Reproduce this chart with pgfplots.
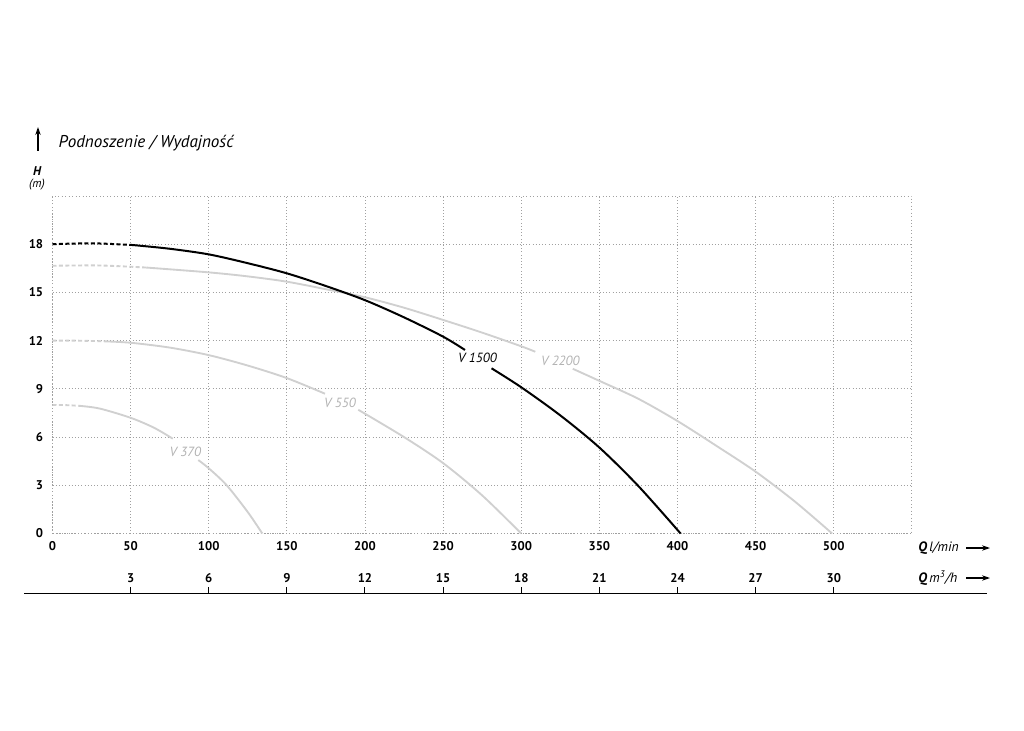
\documentclass[border=0pt]{standalone}
\usepackage{fontspec}
\setmainfont{PT Sans}
\usepackage{pgfplots}
\pgfplotsset{compat=1.18}
\usetikzlibrary{arrows.meta}
\definecolor{curvegray}{RGB}{208,208,208}
\definecolor{labgray}{RGB}{178,178,178}
\definecolor{gridgray}{RGB}{160,160,160}
\begin{document}
\begin{tikzpicture}
\useasboundingbox (0,0) rectangle (768pt,-548.25pt);
\begin{axis}[
  at={(39.375pt,-400.125pt)}, anchor=south west,
  scale only axis, width=644.5pt, height=253.1pt,
  xmin=0, xmax=550, ymin=0, ymax=21,
  xtick={0,50,...,500}, ytick={0,3,...,18},
  grid=major, major grid style={gridgray, dotted, line width=0.6pt},
  axis line style={gridgray, dotted, line width=0.6pt},
  major tick length=0pt,
  tick label style={font=\fontsize{9.5}{11}\selectfont\bfseries},
  /pgf/number format/assume math mode=true,
  x tick label style={yshift=-2.5pt},
  y tick label style={xshift=-3.5pt},
  clip=false,
]
% V 370
\addplot[curvegray, line width=1.4pt, dash pattern=on 3pt off 1.8pt, smooth] coordinates {(0,8) (8,7.99) (16.5,7.95)};
\addplot[curvegray, line width=1.4pt, smooth] coordinates {(16.5,7.95) (30,7.78) (50,7.2) (65,6.58) (77,5.9)};
\addplot[curvegray, line width=1.4pt, smooth] coordinates {(93.3,4.57) (100,4.06) (111.5,3) (125,1.33) (134.3,0)};
% V 550
\addplot[curvegray, line width=1.4pt, dash pattern=on 3pt off 1.8pt, smooth] coordinates {(0,12) (16,12.0) (33,11.96)};
\addplot[curvegray, line width=1.4pt, smooth] coordinates {(33,11.96) (50,11.87) (75,11.57) (100,11.1) (125,10.45) (150,9.67) (174.4,8.7)};
\addplot[curvegray, line width=1.4pt, smooth] coordinates {(195.7,7.7) (225,6.0) (250,4.38) (275,2.37) (300,0)};
% V 2200
\addplot[curvegray, line width=1.4pt, dash pattern=on 3pt off 1.8pt, smooth] coordinates {(0,16.66) (30,16.68) (60,16.55)};
\addplot[curvegray, line width=1.4pt, smooth] coordinates {(60,16.55) (100,16.25) (125,16.0) (150,15.67) (175,15.2) (200,14.7) (225,14.05) (250,13.29) (275,12.5) (300,11.65) (309,11.31)};
\addplot[curvegray, line width=1.4pt, smooth] coordinates {(333,10.25) (350,9.5) (375,8.38) (400,7.0) (425,5.45) (450,3.85) (475,2.0) (499,0)};
% V 1500
\addplot[black, line width=1.5pt, dash pattern=on 3pt off 1.8pt, smooth] coordinates {(0,18) (25,18.06) (51.5,17.95)};
\addplot[black, line width=1.5pt, smooth] coordinates {(51.5,17.95) (75,17.72) (100,17.37) (125,16.82) (150,16.19) (175,15.4) (200,14.52) (225,13.45) (250,12.25) (264,11.42)};
\addplot[black, line width=1.5pt, smooth] coordinates {(281,10.28) (300,9.1) (325,7.35) (350,5.35) (375,2.95) (402,0)};
\node[font=\fontsize{10}{12}\selectfont\itshape] at (axis cs:272,10.92) {V 1500};
\node[labgray, font=\fontsize{10}{12}\selectfont\itshape] at (axis cs:325,10.73) {V 2200};
\node[labgray, font=\fontsize{10}{12}\selectfont\itshape] at (axis cs:184,8.12) {V 550};
\node[labgray, font=\fontsize{10}{12}\selectfont\itshape] at (axis cs:85,5.07) {V 370};
\end{axis}
\begin{axis}[
  at={(18pt,-444.75pt)}, anchor=north west,
  scale only axis, width=722.25pt, height=10pt,
  xmin=-1.094, xmax=35.885, ymin=0, ymax=1,
  axis x line*=top, axis y line=none,
  xtick={3,6,...,30}, tick align=outside, major tick length=4.5pt,
  x axis line style={black, line width=0.75pt},
  tick style={black, line width=0.75pt},
  tick label style={font=\fontsize{9.5}{11}\selectfont\bfseries},
  /pgf/number format/assume math mode=true,
]
\addplot[draw=none] coordinates {(0,0)};
\end{axis}
\begin{scope}[x=0.75pt,y=-0.75pt]
\draw[line width=0.9pt, -{Stealth[length=6pt,width=4pt]}] (38,151) -- (38,127);
\node[anchor=west, font=\fontsize{12.8}{14}\selectfont\itshape] at (54,143) {Podnoszenie / Wydajność};
\node[font=\fontsize{9.5}{11}\selectfont\bfseries\itshape] at (37,171) {H};
\node[font=\fontsize{9}{10}\selectfont\itshape] at (37,185) {(m)};
\node[anchor=west, inner sep=0pt, font=\fontsize{10.2}{12}\selectfont] at (918,548) {\textbf{\textit{Q}}\,\textit{l/min}};
\draw[line width=0.8pt, -{Stealth[length=6pt,width=4pt]}] (966,548) -- (990,548);
\node[anchor=west, inner sep=0pt, font=\fontsize{10.2}{12}\selectfont] at (918,578) {\textbf{\textit{Q}}\,\textit{m\textsuperscript{3}/h}};
\draw[line width=0.8pt, -{Stealth[length=6pt,width=4pt]}] (966,578) -- (990,578);
\end{scope}
\end{tikzpicture}
\end{document}
